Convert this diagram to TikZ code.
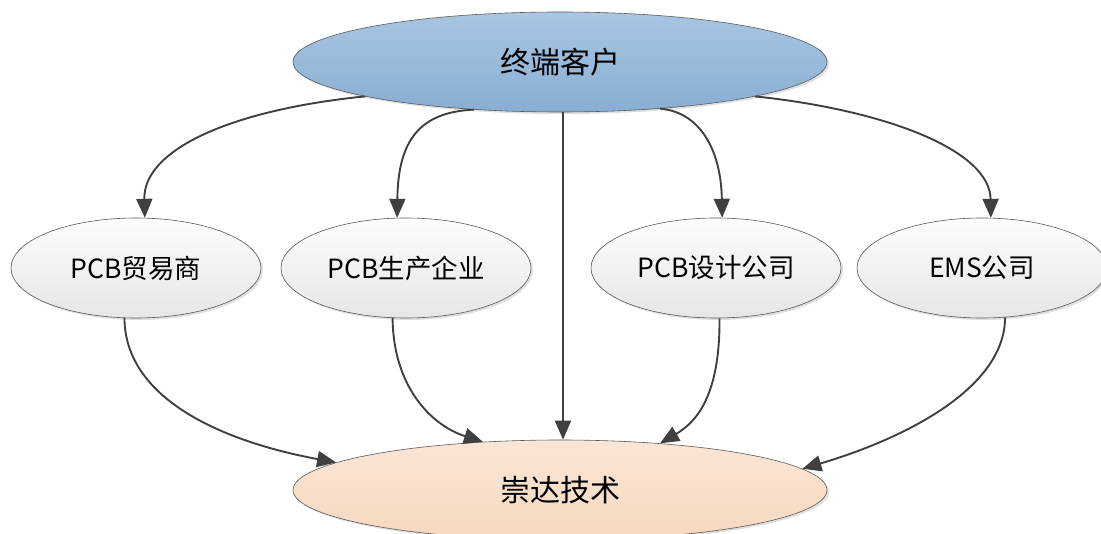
\documentclass[tikz,border=0pt]{standalone}
\usepackage{fontspec}
\newfontfamily\cjk{Noto Sans CJK SC}
\usetikzlibrary{arrows.meta,shadows,shapes.geometric}
\definecolor{arrowgray}{HTML}{404040}
\definecolor{edgegray}{HTML}{5A5A5A}
\definecolor{bluetop}{HTML}{A9C6E2}
\definecolor{bluebot}{HTML}{88AED3}
\definecolor{graytop}{HTML}{FDFDFD}
\definecolor{graybot}{HTML}{E6E6E6}
\definecolor{peachtop}{HTML}{FAE6D6}
\definecolor{peachbot}{HTML}{F6D8BE}
\tikzset{
  ell/.style={ellipse, draw=edgegray, line width=0.6pt, inner sep=0pt,
    font=\cjk, text=black,
    drop shadow={opacity=0.25, shadow xshift=2pt, shadow yshift=-2pt}},
  bigell/.style={ell, minimum width=534pt, minimum height=100pt, font=\cjk\fontsize{30}{32}\selectfont},
  midell/.style={ell, minimum width=250pt, minimum height=100pt, top color=graytop, bottom color=graybot, font=\cjk\fontsize{26.5}{28}\selectfont},
  arr/.style={draw=arrowgray, line width=1.9pt, -{Triangle[length=19pt,width=16pt]}, arrowgray}
}
\begin{document}
\begin{tikzpicture}[x=1pt,y=-1pt]
\useasboundingbox[fill=white] (0,0) rectangle (1101,534);
\node[bigell, top color=bluetop, bottom color=bluebot] (top) at (560,62) {终端客户};
\node[midell] (t1) at (136,268) {PCB贸易商};
\node[midell] (t2) at (406,268) {PCB生产企业};
\node[midell] (t3) at (716,268) {PCB设计公司};
\node[midell] (t4) at (982,268) {EMS公司};
\node[bigell, top color=peachtop, bottom color=peachbot] (bot) at (560,490) {崇达技术};
% from top
\draw[arr] (top.190) .. controls (230,110) and (143,150) .. (t1.80);
\draw[arr] (top.209) .. controls (420,112) and (398,140) .. (t2.100);
\draw[arr] ([xshift=3pt]top.south) -- ([xshift=3pt]bot.north);
\draw[arr] (top.335) .. controls (700,112) and (721,150) .. (t3.83);
\draw[arr] (top.350) .. controls (885,110) and (990,150) .. (t4.80);
% to bottom
\draw[arr] (t1.257) .. controls (125,400) and (225,442) .. (bot.173);
\draw[arr] (t2.255) .. controls (393,385) and (430,425) .. (bot.148);
\draw[arr] (t3.274) .. controls (720,390) and (700,420) .. (bot.25);
\draw[arr] (t4.295) .. controls (1005,390) and (900,440) .. (bot.5);
\end{tikzpicture}
\end{document}
